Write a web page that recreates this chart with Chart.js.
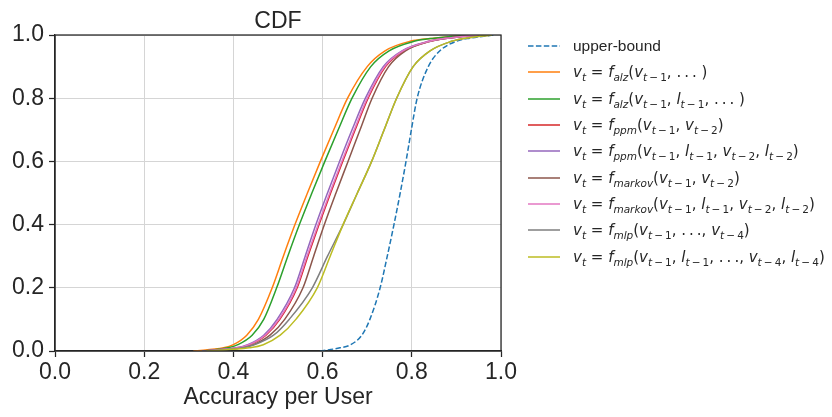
<!DOCTYPE html>
<html lang="en">
<head>
  <meta charset="UTF-8">
  <title>CDF</title>
  <script src="https://cdn.jsdelivr.net/npm/chart.js"></script>
  <style>
    body {
      margin: 0;
      padding: 0;
      background: #fff;
    }

    .wrap {
      position: relative;
      width: 832px;
      height: 417px;
    }

    #legend {
      position: absolute;
      left: 528px;
      top: 33px;
      color: #262626;
    }

    .row {
      display: flex;
      align-items: center;
      height: 26.3px;
      white-space: nowrap;
    }

    .row svg {
      width: 32px;
      height: 10px;
      margin-right: 13px;
      flex: none;
    }

    .plain {
      font-family: 'Liberation Sans', Arial, sans-serif;
      font-size: 15.5px;
    }

    .math {
      font-family: 'DejaVu Sans', sans-serif;
      font-size: 15px;
    }

    .math sub {
      font-size: 70%;
      vertical-align: -0.35em;
      line-height: 0;
    }
  </style>
</head>
<body>

  <div class="wrap">
    <canvas id="cdfChart" width="832" height="417"></canvas>
    <div id="legend"></div>
  </div>

  <script>
    // CDF levels (y) shared by every curve
    const cdfLevels = [0, 0.01, 0.02, 0.05, 0.1, 0.2, 0.3, 0.4, 0.5, 0.6, 0.7, 0.8, 0.9, 0.95, 0.98, 0.99, 1.0];

    // accuracy per user (x) reached at each level
    const upperBound   = [0.594, 0.639, 0.663, 0.688, 0.706, 0.729, 0.745, 0.760, 0.774, 0.787, 0.799, 0.812, 0.837, 0.863, 0.900, 0.930, 0.985];
    const alzV         = [0.310, 0.378, 0.400, 0.430, 0.456, 0.487, 0.512, 0.538, 0.566, 0.595, 0.625, 0.656, 0.700, 0.740, 0.796, 0.850, 0.930];
    const alzVL        = [0.330, 0.388, 0.410, 0.442, 0.468, 0.497, 0.522, 0.548, 0.576, 0.605, 0.635, 0.666, 0.708, 0.749, 0.805, 0.850, 0.930];
    const ppmV         = [0.330, 0.410, 0.437, 0.473, 0.504, 0.543, 0.567, 0.592, 0.618, 0.645, 0.673, 0.702, 0.741, 0.782, 0.840, 0.880, 0.950];
    const ppmVL        = [0.330, 0.405, 0.432, 0.468, 0.498, 0.537, 0.561, 0.585, 0.611, 0.638, 0.666, 0.696, 0.736, 0.778, 0.838, 0.880, 0.950];
    const markovV      = [0.340, 0.418, 0.445, 0.482, 0.515, 0.556, 0.580, 0.604, 0.630, 0.657, 0.684, 0.711, 0.748, 0.786, 0.842, 0.880, 0.950];
    const markovVL     = [0.330, 0.408, 0.435, 0.471, 0.502, 0.541, 0.565, 0.590, 0.616, 0.643, 0.671, 0.700, 0.739, 0.780, 0.840, 0.880, 0.950];
    const mlpV         = [0.330, 0.420, 0.447, 0.490, 0.525, 0.577, 0.611, 0.646, 0.678, 0.710, 0.738, 0.766, 0.803, 0.841, 0.889, 0.920, 0.980];
    const mlpVL        = [0.340, 0.435, 0.467, 0.505, 0.540, 0.588, 0.617, 0.646, 0.678, 0.710, 0.738, 0.766, 0.803, 0.841, 0.889, 0.920, 0.980];

    const seriesValues = [upperBound, alzV, alzVL, ppmV, ppmVL, markovV, markovVL, mlpV, mlpVL];
    const seriesColors = ['#1f77b4', '#ff7f0e', '#2ca02c', '#d62728', '#9467bd', '#8c564b', '#e377c2', '#7f7f7f', '#bcbd22'];

    const seriesNames = [
      'upper-bound',
      'v_t = f_alz(v_t-1, ...)',
      'v_t = f_alz(v_t-1, l_t-1, ...)',
      'v_t = f_ppm(v_t-1, v_t-2)',
      'v_t = f_ppm(v_t-1, l_t-1, v_t-2, l_t-2)',
      'v_t = f_markov(v_t-1, v_t-2)',
      'v_t = f_markov(v_t-1, l_t-1, v_t-2, l_t-2)',
      'v_t = f_mlp(v_t-1, ..., v_t-4)',
      'v_t = f_mlp(v_t-1, l_t-1, ..., v_t-4, l_t-4)'
    ];

    // legend markup (math with subscripts)
    const sub = (s) => '<sub>' + s + '</sub>';
    const vt = (k) => '<i>v</i>' + sub('<i>t</i>&thinsp;−&thinsp;' + k);
    const lt = (k) => '<i>l</i>' + sub('<i>t</i>&thinsp;−&thinsp;' + k);
    const lhs = (f) => '<i>v</i>' + sub('<i>t</i>') + ' = <i>f</i>' + sub('<i>' + f + '</i>');
    const dots = '.&thinsp;.&thinsp;.';
    const legendHtml = [
      null,
      lhs('alz') + '(' + vt(1) + ', ' + dots + ' )',
      lhs('alz') + '(' + vt(1) + ', ' + lt(1) + ', ' + dots + ' )',
      lhs('ppm') + '(' + vt(1) + ', ' + vt(2) + ')',
      lhs('ppm') + '(' + vt(1) + ', ' + lt(1) + ', ' + vt(2) + ', ' + lt(2) + ')',
      lhs('markov') + '(' + vt(1) + ', ' + vt(2) + ')',
      lhs('markov') + '(' + vt(1) + ', ' + lt(1) + ', ' + vt(2) + ', ' + lt(2) + ')',
      lhs('mlp') + '(' + vt(1) + ', ' + dots + ', ' + vt(4) + ')',
      lhs('mlp') + '(' + vt(1) + ', ' + lt(1) + ', ' + dots + ', ' + vt(4) + ', ' + lt(4) + ')'
    ];

    const tickFont = { family: "'Liberation Sans', Arial, sans-serif", size: 23 };
    const ink = '#262626';

    const datasets = seriesValues.map((xs, i) => ({
      label: seriesNames[i],
      data: xs.map((x, j) => ({ x: x, y: cdfLevels[j] })),
      borderColor: seriesColors[i],
      backgroundColor: seriesColors[i],
      borderWidth: 1.5,
      borderDash: i === 0 ? [5.5, 2.4] : [],
      pointRadius: 0,
      fill: false,
      cubicInterpolationMode: 'monotone',
      order: seriesValues.length - i
    }));

    // closes the box on the top and right sides
    const frame = {
      id: 'frame',
      afterDatasetsDraw(chart) {
        const a = chart.chartArea;
        const c = chart.ctx;
        c.save();
        c.strokeStyle = ink;
        c.lineWidth = 1.25;
        c.strokeRect(a.left, a.top, a.right - a.left, a.bottom - a.top);
        c.restore();
      }
    };

    const ctx = document.getElementById('cdfChart').getContext('2d');
    new Chart(ctx, {
      type: 'line',
      data: { datasets: datasets },
      plugins: [frame],
      options: {
        responsive: false,
        animation: false,
        layout: { padding: { left: 0, right: 331, top: 0, bottom: 0 } },
        plugins: {
          legend: { display: false },
          tooltip: { enabled: false },
          title: {
            display: true,
            text: 'CDF',
            fullSize: false,
            color: ink,
            font: { family: tickFont.family, size: 23, weight: 'normal' },
            padding: { top: 7.4, bottom: 0 }
          }
        },
        scales: {
          x: {
            type: 'linear',
            min: 0,
            max: 1,
            afterFit: (scale) => { scale.height = 66; },
            ticks: {
              stepSize: 0.2,
              color: ink,
              font: tickFont,
              padding: 2,
              maxRotation: 0,
              callback: (v) => v.toFixed(1)
            },
            grid: { color: '#d5d5d5', lineWidth: 1, tickLength: 6, tickColor: ink, tickWidth: 1.25 },
            border: { color: ink, width: 1.25 },
            title: {
              display: true,
              text: 'Accuracy per User',
              color: ink,
              font: tickFont,
              padding: { top: 0, bottom: 5.5 }
            }
          },
          y: {
            min: 0,
            max: 1,
            afterFit: (scale) => { scale.width = 55; },
            ticks: {
              stepSize: 0.2,
              color: ink,
              font: tickFont,
              padding: 5,
              callback: (v) => v.toFixed(1)
            },
            grid: { color: '#d5d5d5', lineWidth: 1, tickLength: 6, tickColor: ink, tickWidth: 1.25 },
            border: { color: ink, width: 1.25 }
          }
        }
      }
    });

    // html legend, built from the same series
    const legend = document.getElementById('legend');
    seriesNames.forEach((name, i) => {
      const row = document.createElement('div');
      row.className = 'row';
      const dash = i === 0 ? ' stroke-dasharray="5.5 2.4"' : '';
      row.innerHTML = '<svg viewBox="0 0 32 10"><line x1="0" y1="5" x2="32" y2="5" stroke="' +
        seriesColors[i] + '" stroke-width="1.5"' + dash + '/></svg>' +
        (legendHtml[i] ? '<span class="math">' + legendHtml[i] + '</span>' : '<span class="plain">' + name + '</span>');
      legend.appendChild(row);
    });
  </script>
</body>
</html>
